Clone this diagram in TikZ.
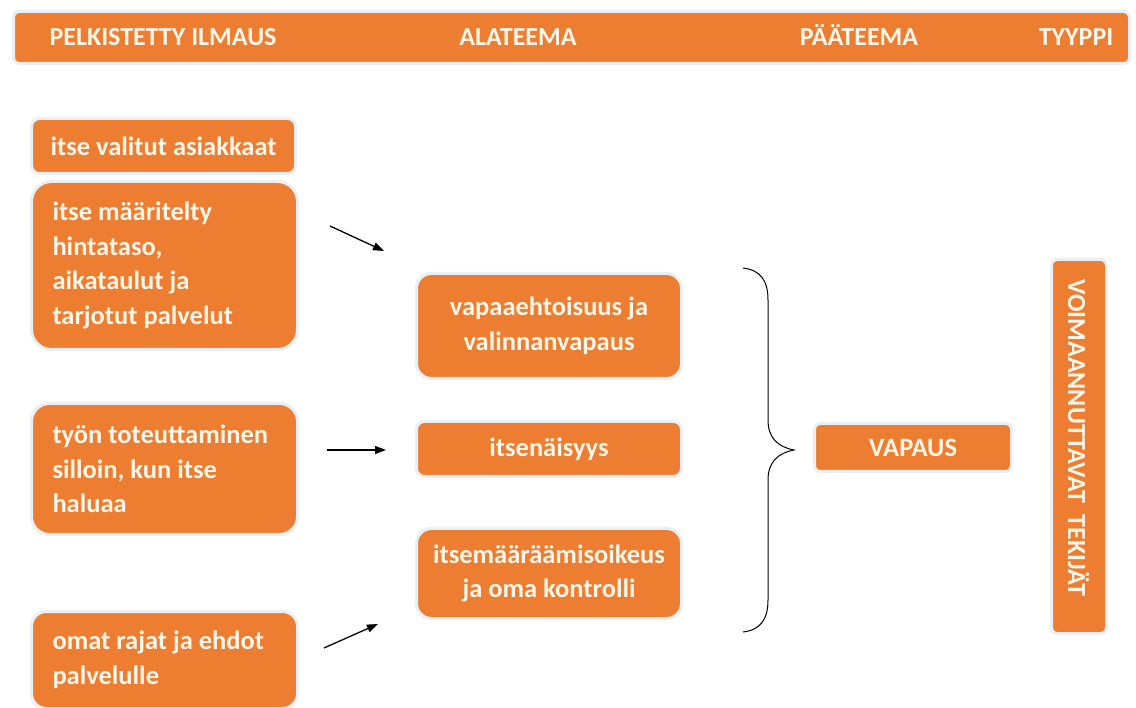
\documentclass[tikz,border=0pt]{standalone}
\usepackage{fontspec}
\setmainfont{Carlito}
\usetikzlibrary{arrows.meta,positioning}
\definecolor{orng}{HTML}{ED7D31}
\definecolor{halo}{HTML}{EBEFF3}
\definecolor{txt}{HTML}{FFF6EA}
\tikzset{
  obox/.style={fill=orng, draw=halo, line width=3pt, text=txt, font=\bfseries\fontsize{26.5}{34.5}\selectfont, anchor=north west, inner sep=0pt},
  hdr/.style={text=txt, font=\bfseries\fontsize{26}{30}\selectfont, anchor=base, inner sep=0pt},
  arr/.style={line width=1.3pt, -{Triangle[length=11pt,width=8pt]}},
}
\begin{document}
\begin{tikzpicture}[x=1pt,y=-1pt]
\useasboundingbox[fill=white] (0,0) rectangle (1136,708);
% header
\node[obox, rounded corners=6pt, minimum width=1116pt, minimum height=52pt] (head) at (12,10) {};
\node[hdr] (h1) at (163,46) {PELKISTETTY ILMAUS};
\node[hdr] (h2) at (518,46) {ALATEEMA};
\node[hdr] (h3) at (859,46) {PÄÄTEEMA};
\node[hdr] (h4) at (1076,46) {TYYPPI};
% left column
\node[obox, rounded corners=8pt, minimum width=264pt, minimum height=55pt] (l1) at (30,117) {itse valitut asiakkaat};
\node[obox, rounded corners=20pt, minimum width=264pt, minimum height=168pt, text width=224pt, align=flush left, inner xsep=21pt] (l2) at (30,180) {itse määritelty\\hintataso,\\aikataulut ja\\tarjotut palvelut};
\node[obox, rounded corners=18pt, minimum width=264pt, minimum height=131pt, text width=224pt, align=flush left, inner xsep=21pt] (l3) at (30,402) {työn toteuttaminen\\silloin, kun itse\\haluaa};
\node[obox, rounded corners=15pt, minimum width=264pt, minimum height=97pt, text width=224pt, align=flush left, inner xsep=21pt] (l4) at (30,610) {omat rajat ja ehdot\\palvelulle};
% middle column
\node[obox, rounded corners=15pt, minimum width=265pt, minimum height=105pt, align=center] (m1) at (415,272) {vapaaehtoisuus ja\\valinnanvapaus};
\node[obox, rounded corners=8pt, minimum width=265pt, minimum height=55pt, align=center] (m2) at (415,420) {itsenäisyys};
\node[obox, rounded corners=15pt, minimum width=265pt, minimum height=90pt, align=center] (m3) at (415,527) {itsemääräämisoikeus\\ja oma kontrolli};
% right
\node[obox, rounded corners=6pt, minimum width=197pt, minimum height=48pt] (v) at (813,422) {VAPAUS};
\node[obox, rounded corners=6pt, minimum width=55pt, minimum height=374pt] (t) at (1050,258) {};
\node[text=txt, font=\bfseries\fontsize{26}{30}\selectfont, rotate=-90, anchor=base west, inner sep=0pt] (tt) at (1068,279) {VOIMAANNUTTAVAT\ \ TEKIJÄT};
% arrows
\coordinate (a1s) at (330,226);
\coordinate (a1e) at (384,251);
\coordinate (a2s) at (327,450);
\coordinate (a2e) at (386,450);
\coordinate (a3s) at (324,648);
\coordinate (a3e) at (378,624);
\draw[arr] (a1s) -- (a1e);
\draw[arr] (a2s) -- (a2e);
\draw[arr] (a3s) -- (a3e);
% brace
\draw[line width=1pt] (743,268) .. controls (760,270) and (768,280) .. (768,300)
  -- (768,420) .. controls (768,438) and (778,447) .. (794,450)
  .. controls (778,453) and (768,462) .. (768,480)
  -- (768,600) .. controls (768,620) and (760,630) .. (743,632);
\end{tikzpicture}
\end{document}
